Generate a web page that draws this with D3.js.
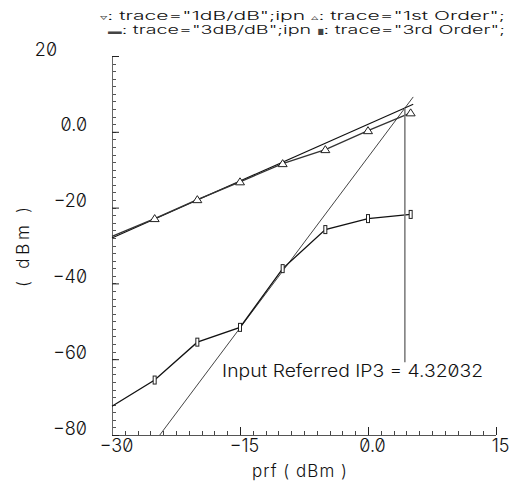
<!DOCTYPE html>
<html>
<head>
<meta charset="utf-8">
<script src="https://cdn.jsdelivr.net/npm/d3@7"></script>
<style>
  body { margin: 0; background: #fff; }
  text { font-family: Inter, "DejaVu Sans", sans-serif; font-weight: 300; font-variant-numeric: slashed-zero; font-feature-settings: "zero" 1; fill: #111; }
</style>
</head>
<body>
<div id="chart"></div>
<script>
// data
var prf = [-30, -25, -20, -15, -10, -5, 0, 5];
var firstOrder = [-27.6, -22.9, -17.9, -13.2, -8.4, -4.7, 0.3, 5.0];
var thirdOrder = [-72.4, -65.5, -55.5, -51.6, -36.1, -25.8, -22.9, -21.8];
// extrapolated lines (end points)
var ipn1X = [-30, 5.3], ipn1Y = [-28, 7.3];
var ipn3X = [-24.4, 5.3], ipn3Y = [-80, 9.2];
var ip3 = 4.32032, ip3Out = 6.3;
var xTicks = [-30, -15, 0, 15], xTickLabels = ["−30", "−15", "0.0", "15"];
var yTicks = [-80, -60, -40, -20, 0, 20], yTickLabels = ["−80", "−60", "−40", "−20", "0.0", "20"];
var legend1 = [["▿", ": trace=\"1dB/dB\";ipn "], ["▵", ": trace=\"1st Order\";"]];
var legend2 = [["▬", ": trace=\"3dB/dB\";ipn "], ["▮", ": trace=\"3rd Order\";"]];
var annText = "Input Referred IP3 = 4.32032";

var width = 525, height = 484;
var svg = d3.select("#chart").append("svg")
    .attr("width", width)
    .attr("height", height);

var x = d3.scaleLinear().domain([-30, 15]).range([112, 496]);
var y = d3.scaleLinear().domain([-80, 20]).range([435, 56]);

// minor ticks, pointing inward
svg.append("g").selectAll("line")
    .data(d3.range(-30, 15.01, 1.5))
    .enter().append("line")
    .attr("x1", function (d) { return Math.round(x(d)) + 0.5; })
    .attr("x2", function (d) { return Math.round(x(d)) + 0.5; })
    .attr("y1", 435).attr("y2", 431)
    .attr("stroke", "#444").attr("stroke-width", 1);
svg.append("g").selectAll("line")
    .data(d3.range(-80, 20.01, 2))
    .enter().append("line")
    .attr("y1", function (d) { return Math.round(y(d)) + 0.5; })
    .attr("y2", function (d) { return Math.round(y(d)) + 0.5; })
    .attr("x1", 112).attr("x2", 116)
    .attr("stroke", "#555").attr("stroke-width", 1);

// major ticks and labels
svg.append("g")
    .attr("transform", "translate(0,435)")
    .call(d3.axisBottom(x).tickValues(xTicks).tickSize(-8).tickFormat(function (d, i) { return xTickLabels[i]; }))
    .call(function (g) {
        g.select(".domain").attr("stroke", "#555").attr("d", "M112,0.5H496");
        g.selectAll("line").attr("stroke", "#222");
        g.selectAll("text").attr("y", 17).attr("dy", 0).attr("dx", 4).attr("font-size", 18).style("font-family", "Inter, DejaVu Sans, sans-serif");
    });
svg.append("g")
    .attr("transform", "translate(112,0)")
    .call(d3.axisLeft(y).tickValues(yTicks).tickSize(-7).tickFormat(function (d, i) { return yTickLabels[i]; }))
    .call(function (g) {
        g.select(".domain").attr("stroke", "#666").attr("d", "M0.5,56V435");
        g.selectAll("line").attr("stroke", "#222");
        g.selectAll("text")
            .attr("x", function (d) { return d == 20 ? -55 : -25; })
            .attr("dy", "-0.05em")
            .attr("font-size", 18)
            .style("font-family", "Inter, DejaVu Sans, sans-serif");
    });

// axis titles
svg.append("text")
    .attr("x", 252)
    .attr("y", 477)
    .attr("font-size", 17)
    .attr("textLength", 95)
    .attr("lengthAdjust", "spacing")
    .text("prf ( dBm )");
svg.append("text")
    .attr("transform", "translate(29,287) rotate(-90)")
    .attr("font-size", 17)
    .attr("textLength", 80)
    .attr("lengthAdjust", "spacing")
    .text("( dBm )");

// legend
function legendLine(parts, lx, ly, len) {
    var t = svg.append("text")
        .attr("x", lx).attr("y", ly)
        .attr("font-size", 11.5)
        .attr("textLength", len)
        .attr("lengthAdjust", "spacingAndGlyphs");
    parts.forEach(function (p) {
        t.append("tspan").attr("font-size", 8).attr("fill", "#444").text(p[0]);
        t.append("tspan").text(p[1]);
    });
}
legendLine(legend1, 100, 20, 405);
legendLine(legend2, 108, 34, 397);

var plot = svg.append("g");

var line = d3.line()
    .x(function (d) { return x(d[0]); })
    .y(function (d) { return y(d[1]); });

var firstPts = prf.map(function (d, i) { return [d, firstOrder[i]]; });
var thirdPts = prf.map(function (d, i) { return [d, thirdOrder[i]]; });
var ipn1Pts = ipn1X.map(function (d, i) { return [d, ipn1Y[i]]; });
var ipn3Pts = ipn3X.map(function (d, i) { return [d, ipn3Y[i]]; });

plot.append("path").datum(ipn3Pts)
    .attr("d", line).attr("fill", "none").attr("stroke", "#444").attr("stroke-width", 1);
plot.append("path").datum(ipn1Pts)
    .attr("d", line).attr("fill", "none").attr("stroke", "#111").attr("stroke-width", 1.1);
plot.append("path").datum(firstPts)
    .attr("d", line).attr("fill", "none").attr("stroke", "#333").attr("stroke-width", 1.3);
plot.append("path").datum(thirdPts)
    .attr("d", line).attr("fill", "none").attr("stroke", "#111").attr("stroke-width", 1.3);

// markers
plot.selectAll(".tri")
    .data(firstPts.slice(1))
    .enter().append("path")
    .attr("class", "tri")
    .attr("transform", function (d) { return "translate(" + x(d[0]) + "," + y(d[1]) + ")"; })
    .attr("d", "M-4.5,3L0,-4L4.5,3Z")
    .attr("fill", "#fff").attr("stroke", "#222").attr("stroke-width", 1);
plot.selectAll(".sq")
    .data(thirdPts.slice(1))
    .enter().append("rect")
    .attr("class", "sq")
    .attr("x", function (d) { return x(d[0]) - 1.5; })
    .attr("y", function (d) { return y(d[1]) - 4; })
    .attr("width", 3).attr("height", 8)
    .attr("fill", "#fff").attr("stroke", "#222").attr("stroke-width", 1);

// IP3 marker line and label
plot.append("line")
    .attr("x1", x(ip3)).attr("x2", x(ip3))
    .attr("y1", y(ip3Out)).attr("y2", y(-60.8))
    .attr("stroke", "#777").attr("stroke-width", 1.5);
svg.append("text")
    .attr("x", x(-17.1))
    .attr("y", y(-64.7))
    .attr("font-size", 17)
    .attr("textLength", 261)
    .attr("lengthAdjust", "spacingAndGlyphs")
    .text(annText);
</script>
</body>
</html>
